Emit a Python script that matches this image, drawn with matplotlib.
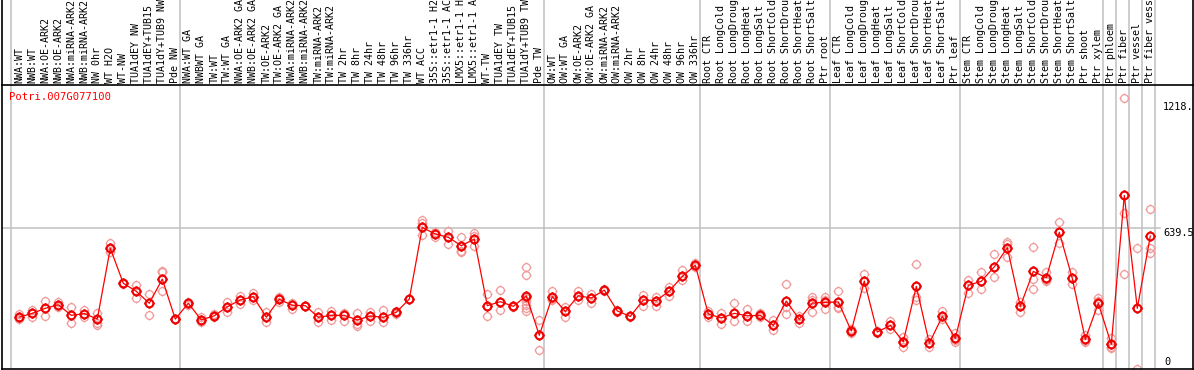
import matplotlib
matplotlib.use("Agg")
import matplotlib.pyplot as plt
from matplotlib.path import Path

title = "Potri.007G077100"

categories = [
    "NWA:WT", "NWB:WT", "NWA:OE-ARK2", "NWB:OE-ARK2", "NWA:miRNA-ARK2", "NWB:miRNA-ARK2",
    "NW 0hr", "WT H2O", "WT-NW", "TUA1dEY NW", "TUA1dEY+TUB15 NW", "TUA1dY+TUB9 NW", "Pde NW",
    "NWA:WT GA", "NWBWT GA", "TW:WT", "TW:WT GA", "NWA:OE-ARK2 GA", "NWB:OE-ARK2 GA",
    "TW:OE-ARK2", "TW:OE-ARK2 GA", "NWA:miRNA-ARK2 GA", "NWB:miRNA-ARK2 GA", "TW:miRNA-ARK2",
    "TW:miRNA-ARK2 GA", "TW 2hr", "TW 8hr", "TW 24hr", "TW 48hr", "TW 96hr", "TW 336hr",
    "WT ACC", "35S::etr1-1 H2O", "35S::etr1-1 ACC", "LMX5::etr1-1 H2O", "LMX5::etr1-1 ACC",
    "WT-TW", "TUA1dEY TW", "TUA1dEY+TUB15 TW", "TUA1dY+TUB9 TW", "Pde TW",
    "OW:WT", "OW:WT GA", "OW:OE-ARK2", "OW:OE-ARK2 GA", "OW:miRNA-ARK2", "OW:miRNA-ARK2 GA",
    "OW 2hr", "OW 8hr", "OW 24hr", "OW 48hr", "OW 96hr", "OW 336hr",
    "Root CTR", "Root LongCold", "Root LongDrought", "Root LongHeat", "Root LongSalt",
    "Root ShortCold", "Root ShortDrought", "Root ShortHeat", "Root ShortSalt", "Ptr root",
    "Leaf CTR", "Leaf LongCold", "Leaf LongDrought", "Leaf LongHeat", "Leaf LongSalt",
    "Leaf ShortCold", "Leaf ShortDrought", "Leaf ShortHeat", "Leaf ShortSalt", "Ptr leaf",
    "Stem CTR", "Stem LongCold", "Stem LongDrought", "Stem LongHeat", "Stem LongSalt",
    "Stem ShortCold", "Stem ShortDrought", "Stem ShortHeat", "Stem ShortSalt", "Ptr shoot",
    "Ptr xylem", "Ptr phloem", "Ptr fiber", "Ptr vessel", "Ptr fiber vessel",
]

means = [
    234, 251, 274, 290, 242, 250, 225, 547, 388, 351, 297, 407, 225,
    297, 221, 240, 281, 312, 327, 234, 315, 288, 286, 233, 242, 242, 221, 239, 233, 256,
    316, 642, 612, 597, 559, 589, 286, 304, 283, 331, 151,
    327, 260, 331, 321, 357, 262, 237, 312, 309, 353, 419, 470,
    248, 230, 251, 240, 242, 196, 307, 224, 298, 301,
    303, 171, 398, 166, 196, 122, 374, 115, 237, 137,
    378, 397, 463, 550, 283, 442, 413, 620, 410, 133, 297,
    110, 788, 274, 603,
]

replicates = [
    [247, 224], [266, 233], [307, 237], [304, 278], [278, 206], [266, 233],
    [254, 198, 209], [573, 532], [391, 385], [380, 322], [338, 242], [444, 438, 353],
    [225, 226], [304, 289], [233, 213], [250, 233], [303, 259], [330, 294], [345, 312],
    [259, 210], [324, 303], [298, 271], [286, 286], [259, 213], [263, 222], [254, 218],
    [254, 203, 193], [256, 218], [266, 213], [261, 250], [316, 316], [676, 664, 608],
    [620, 600], [626, 565], [600, 536, 529], [615, 603, 558], [339, 239], [357, 266],
    [285, 281], [460, 424, 320, 305, 290, 275, 262], [221, 83], [354, 312, 315],
    [281, 236], [351, 312], [338, 299], [360, 355], [259, 266], [239, 233], [335, 285],
    [327, 285], [372, 330], [448, 403], [478, 463], [236, 260], [254, 203], [297, 218],
    [269, 218], [252, 236], [221, 175], [383, 278, 247], [240, 205], [324, 312, 257],
    [324, 269, 311], [354, 278, 275], [178, 163], [430, 365], [171, 161], [215, 178],
    [142, 99, 125], [476, 327, 312], [135, 98], [263, 224], [163, 122, 128], [403, 342],
    [439, 360], [521, 415], [576, 506, 565], [304, 259], [552, 409, 363], [438, 400, 402],
    [665, 620, 570], [438, 385], [152, 122, 125], [319, 266, 305], [137, 98, 95],
    [1230, 709, 430], [550, 0], [724, 547, 527],
]

# index of last category in each group
group_ends = [-1, 12, 40, 52, 62, 72, 83, 84, 85, 86, 87]
axis_labels = ["1218.", "639.5", "0"]
axis_values = [1218, 639.5, 0]

W, H = 1194, 370
fig = plt.figure(figsize=(W / 100, H / 100), dpi=100)
fig.patch.set_facecolor("white")

def px(x):
    return x / W

def py(y):
    return 1 - y / H

# plot axes
ax_l, ax_r, ax_t, ax_b = 1.5, 1192.5, 85, 369
ax = fig.add_axes([px(ax_l), py(ax_b), px(ax_r - ax_l), py(ax_t) - py(ax_b)])
x0px, dxpx = 19.3, 13.0
xmin = (ax_l - x0px) / dxpx
xmax = (ax_r - x0px) / dxpx
yscale = 0.2197
y0px = 368.5
ymin = (y0px - ax_b) / yscale
ymax = (y0px - ax_t) / yscale
ax.set_xlim(xmin, xmax)
ax.set_ylim(ymin, ymax)
ax.set_xticks([])
ax.set_yticks([])
for s in ax.spines.values():
    s.set_color("black")
    s.set_linewidth(1.2)
ax.spines["top"].set_visible(False)

# label axes (top band)
lab = fig.add_axes([px(ax_l), py(ax_t), px(ax_r - ax_l), 1 - py(ax_t)])
lab.set_xlim(xmin, xmax)
lab.set_ylim(0, 1)
lab.set_xticks([])
lab.set_yticks([])
for k, s in lab.spines.items():
    s.set_visible(k in ("left", "right", "bottom"))
    s.set_color("black")
    s.set_linewidth(1.2)

grid_col = "#c0c0c0"
off = 0.38
for g in group_ends:
    ax.axvline(g + off, color=grid_col, lw=1.1, zorder=0)
    lab.axvline(g + off, color=grid_col, lw=1.1, zorder=0)

ax.plot([xmin, (1160 - x0px) / dxpx], [639.5, 639.5], color=grid_col, lw=1.1, zorder=0)

# custom marker: ring with small ticks
circ = Path.unit_circle()
ticks = [Path([(dx * 0.95, dy * 0.95), (dx * 1.3, dy * 1.3)], [Path.MOVETO, Path.LINETO])
         for dx, dy in [(0, 1), (0, -1), (1, 0), (-1, 0)]]
gear = Path.make_compound_path(circ, *ticks)

xs = list(range(len(categories)))
rx, ry = [], []
for i, reps in enumerate(replicates):
    for v in reps:
        rx.append(i)
        ry.append(v)
ax.plot(rx, ry, linestyle="none", marker=gear, markersize=7.2, markerfacecolor="none",
        markeredgecolor="#f09a9a", markeredgewidth=0.9, zorder=2, clip_on=True)
ax.plot(xs, means, color="#ff0000", lw=0.9, zorder=3)
ax.plot(xs, means, linestyle="none", marker=gear, markersize=7.2, markerfacecolor="none",
        markeredgecolor="#ee0000", markeredgewidth=1.5, zorder=4)

mono = "DejaVu Sans Mono"
for i, c in enumerate(categories):
    lab.text(i, (H - 83) / H * 0 + (85 - 83) / 85, c, rotation=90, ha="center", va="bottom",
             fontsize=7.2, family=mono, color="black", clip_on=False)

fig.text(px(9), py(97), title, color="#ff0000", fontsize=7.6, family=mono,
         ha="left", va="center")

label_pos = [(1163.3, 107.3), (1163.3, 232.7), (1164.3, 361.7)]
for (lx, ly), t in zip(label_pos, axis_labels):
    fig.text(px(lx), py(ly), t, fontsize=7.4, family=mono, ha="left", va="center", color="black")

fig.savefig("out.png", dpi=100, facecolor="white")
